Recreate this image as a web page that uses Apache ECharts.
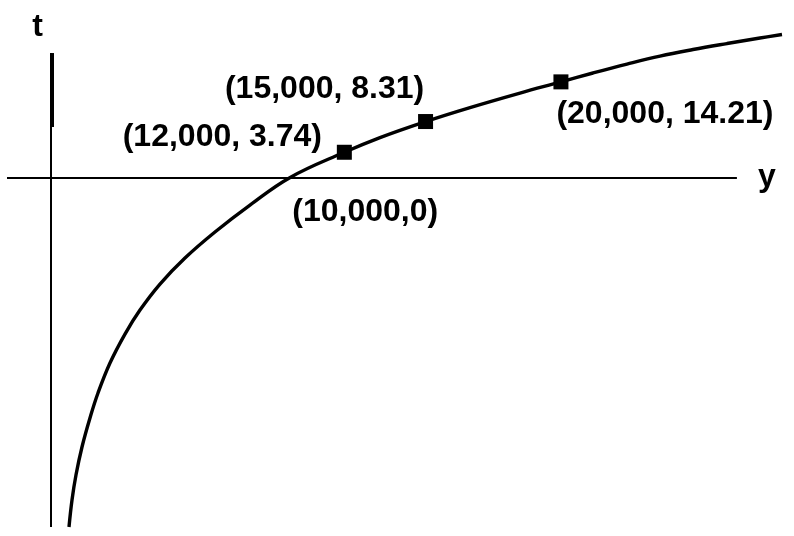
<!DOCTYPE html>
<html><head><meta charset="utf-8">
<script src="https://cdn.jsdelivr.net/npm/echarts@6/dist/echarts.min.js"></script>
<style>html,body{margin:0;padding:0;background:#fff}#c{width:794px;height:536px}</style>
</head><body><div id="c"></div>
<script>
// curve (y, t)
const curveY = [1830, 1941, 2088, 2310, 2605, 2901, 3344, 3898, 4452, 5191, 6114, 7222, 8515, 10000, 12000, 13317, 15000, 16641, 18488, 20000, 21184, 22440, 23659, 24878, 26134, 27352, 28165];
const curveT = [-52.0, -47.99, -44.27, -40.10, -35.79, -32.07, -27.61, -23.30, -19.73, -15.86, -11.99, -8.12, -4.11, 0, 3.74, 5.93, 8.31, 10.39, 12.55, 14.21, 15.53, 16.86, 18.05, 19.02, 19.91, 20.73, 21.25];
// labelled points
const pointY = [12000, 15000, 20000, 10000];
const pointT = [3.74, 8.31, 14.21, 0];
const pointLabels = ['(12,000, 3.74)', '(15,000, 8.31)', '(20,000, 14.21)', '(10,000,0)'];
const pointMarked = [true, true, true, false];
// drawn axes: horizontal (t = 0) and vertical (t axis) extents
const axisNames = ['y', 't'];
const hAxisY = [-460, 26500];
const vAxisAt = 1165;
const vAxisT = [18.5, -52];
const heavyAxisAt = 1200;
const heavyAxisT = [18.5, 7.5];

const labelOffsets = [[-122, -15], [-101, -32], [104, 32], [75, 35]];
const font = 'Liberation Sans, Arial, sans-serif';
const txt = {fontFamily: font, fontWeight: 'bold', fontSize: 32, color: '#000', textBorderWidth: 0};

const chart = echarts.init(document.getElementById('c'), null, {renderer: 'canvas'});
chart.setOption({
  backgroundColor: '#fff',
  animation: false,
  grid: {left: 7, right: 7, top: 29.5, bottom: 9, outerBoundsMode: 'none', containLabel: false},
  xAxis: {
    type: 'value', min: -460, max: 28350,
    axisLine: {show: false}, axisTick: {show: false}, axisLabel: {show: false}, splitLine: {show: false}
  },
  yAxis: {
    type: 'value', min: -52, max: 22,
    axisLine: {show: false}, axisTick: {show: false}, axisLabel: {show: false}, splitLine: {show: false}
  },
  series: [
    {
      type: 'line', clip: false, smooth: 0.4, symbol: 'none', z: 3,
      lineStyle: {color: '#000', width: 3.4},
      data: curveY.map((v, i) => [v, curveT[i]]),
      markLine: {
        silent: true, symbol: 'none', animation: false,
        lineStyle: {color: '#000', width: 2, type: 'solid'},
        label: {show: false},
        data: [
          [{coord: [hAxisY[0], 0]}, {coord: [hAxisY[1], 0],
            label: Object.assign({show: true, position: 'end', formatter: axisNames[0], distance: 21, padding: [0, 0, 12, 0]}, txt)}],
          [{coord: [vAxisAt, vAxisT[0]]}, {coord: [vAxisAt, vAxisT[1]],
            label: Object.assign({show: true, position: 'start', formatter: axisNames[1], distance: 10, padding: [0, 27, 0, 0]}, txt)}],
          [{coord: [heavyAxisAt, heavyAxisT[0]], lineStyle: {width: 4}}, {coord: [heavyAxisAt, heavyAxisT[1]]}]
        ]
      }
    },
    {
      type: 'scatter', clip: false, symbol: 'rect', z: 4,
      data: pointY.map((v, i) => ({
        value: [v, pointT[i]],
        symbolSize: pointMarked[i] ? 15 : 0,
        label: Object.assign({show: true, formatter: pointLabels[i], position: 'inside', offset: labelOffsets[i]}, txt)
      })),
      itemStyle: {color: '#000', opacity: 1}
    }
  ]
});
</script></body></html>
